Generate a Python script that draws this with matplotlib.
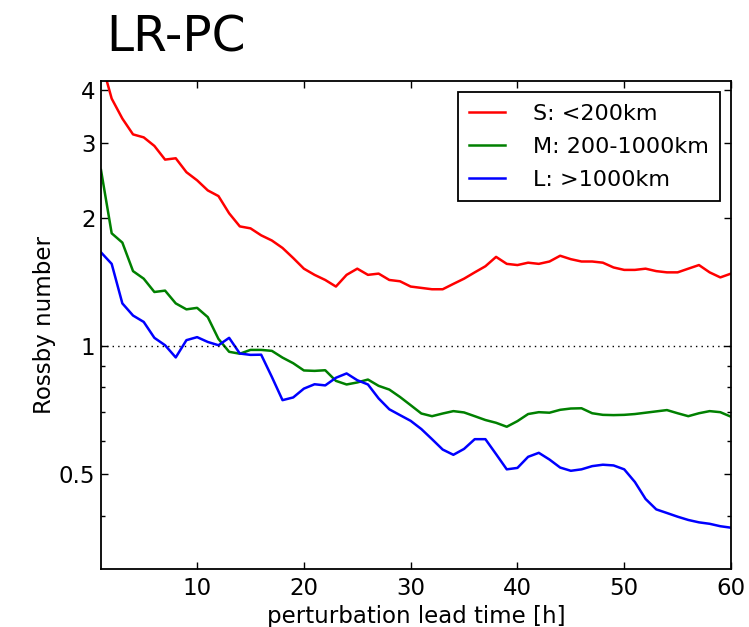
import matplotlib
matplotlib.use("Agg")
import matplotlib.pyplot as plt
from matplotlib.ticker import FixedLocator, FixedFormatter, NullFormatter

lead_time = list(range(1, 61))

small = [4.69, 3.81, 3.42, 3.14, 3.09, 2.95, 2.74, 2.76, 2.56, 2.45,
         2.32, 2.25, 2.05, 1.91, 1.89, 1.82, 1.77, 1.70, 1.61, 1.52,
         1.47, 1.43, 1.38, 1.47, 1.52, 1.47, 1.48, 1.43, 1.42, 1.38,
         1.37, 1.36, 1.36, 1.40, 1.44, 1.49, 1.54, 1.62, 1.56, 1.55,
         1.57, 1.56, 1.58, 1.63, 1.60, 1.58, 1.58, 1.57, 1.53, 1.51,
         1.51, 1.52, 1.50, 1.49, 1.49, 1.52, 1.55, 1.49, 1.45, 1.48]

medium = [2.59, 1.84, 1.75, 1.50, 1.44, 1.34, 1.35, 1.26, 1.22, 1.23,
          1.17, 1.04, 0.97, 0.96, 0.98, 0.98, 0.975, 0.94, 0.912, 0.877,
          0.875, 0.878, 0.829, 0.813, 0.822, 0.835, 0.807, 0.791, 0.760, 0.727,
          0.695, 0.685, 0.695, 0.704, 0.699, 0.685, 0.671, 0.661, 0.647, 0.667,
          0.693, 0.700, 0.698, 0.709, 0.714, 0.715, 0.696, 0.690, 0.689, 0.690,
          0.693, 0.698, 0.703, 0.708, 0.696, 0.685, 0.696, 0.704, 0.700, 0.683]

large = [1.66, 1.56, 1.26, 1.18, 1.14, 1.046, 1.005, 0.941, 1.033, 1.05,
         1.023, 1.005, 1.046, 0.961, 0.954, 0.955, 0.847, 0.747, 0.758, 0.795,
         0.814, 0.809, 0.843, 0.863, 0.832, 0.813, 0.754, 0.711, 0.689, 0.668,
         0.639, 0.605, 0.572, 0.556, 0.574, 0.605, 0.605, 0.558, 0.514, 0.518,
         0.550, 0.562, 0.542, 0.519, 0.510, 0.514, 0.523, 0.527, 0.525, 0.514,
         0.480, 0.438, 0.414, 0.406, 0.398, 0.391, 0.386, 0.383, 0.378, 0.375]

labels = ["S: <200km", "M: 200-1000km", "L: >1000km"]
colors = ["red", "green", "blue"]

y_major = [0.5, 1, 2, 3, 4]
y_major_labels = ["0.5", "1", "2", "3", "4"]
y_minor = [0.4, 0.6, 0.7, 0.8, 0.9]
x_ticks = [10, 20, 30, 40, 50, 60]

plt.rcParams["font.family"] = ["DejaVu Sans"]

fig = plt.figure(figsize=(7.49, 6.27), dpi=100)
ax = fig.add_axes([101 / 749, 1 - 569 / 627, (731 - 101) / 749, (569 - 81) / 627])

for series, lab, col in zip([small, medium, large], labels, colors):
    ax.plot(lead_time, series, color=col, lw=1.8, label=lab)

ax.axhline(1.0, color="black", lw=1.0, ls=(0, (1, 3)))

ax.set_yscale("log")
ax.set_xlim(1, 60)
ax.set_ylim(0.3, 4.19)

ax.yaxis.set_major_locator(FixedLocator(y_major))
ax.yaxis.set_major_formatter(FixedFormatter(y_major_labels))
ax.yaxis.set_minor_locator(FixedLocator(y_minor))
ax.yaxis.set_minor_formatter(NullFormatter())
ax.set_xticks(x_ticks)

ax.tick_params(which="both", direction="in", top=True, right=True, labelsize=16.5)
ax.tick_params(axis="y", which="both", pad=4)
ax.tick_params(axis="x", which="both", pad=6)
ax.tick_params(which="major", length=5, width=1)
ax.tick_params(which="minor", length=3, width=1)
for s in ax.spines.values():
    s.set_linewidth(1.3)

ax.set_xlabel("perturbation lead time [h]", fontsize=16.5, labelpad=3)
ax.set_ylabel("Rossby number", fontsize=16.5)
ax.yaxis.set_label_coords(-0.071, 0.5)

leg = ax.legend(loc="upper right", bbox_to_anchor=(0.9825, 0.977), borderaxespad=0,
                fontsize=16, fancybox=False, framealpha=1, edgecolor="black",
                handlelength=1.6, handletextpad=1.25, labelspacing=0.58,
                borderpad=0.52)
leg.get_frame().set_linewidth(1.3)

fig.text(106 / 749, 1 - 51 / 627, "LR-PC", fontsize=35, ha="left", va="baseline")

fig.savefig("out.png", dpi=100)
